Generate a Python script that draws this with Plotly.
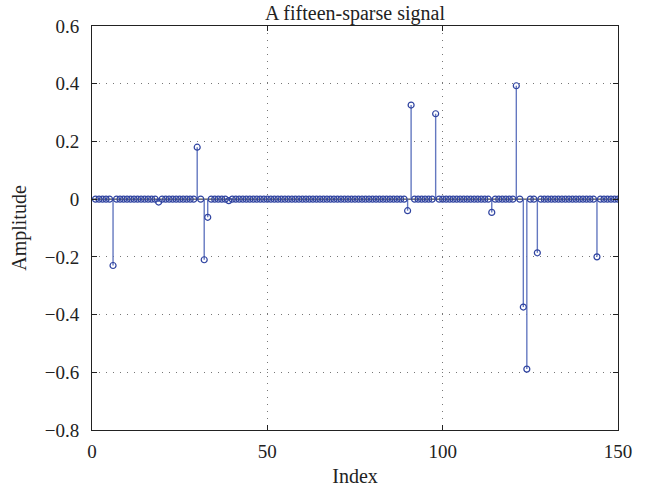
import plotly.graph_objects as go

n_points = 150
spike_index = [6, 19, 30, 32, 33, 39, 90, 91, 98, 114, 121, 123, 124, 127, 144]
spike_value = [-0.23, -0.01, 0.18, -0.21, -0.063, -0.005, -0.04, 0.326, 0.296,
               -0.046, 0.393, -0.374, -0.589, -0.186, -0.20]

x_vals = list(range(1, n_points + 1))
y_vals = [0.0] * n_points
for i, v in zip(spike_index, spike_value):
    y_vals[i - 1] = v

x_ticks = [0, 50, 100, 150]
y_ticks = [0.6, 0.4, 0.2, 0, -0.2, -0.4, -0.6, -0.8]
y_tick_text = ["0.6", "0.4", "0.2", "0", "\u22120.2", "\u22120.4", "\u22120.6", "\u22120.8"]

stem_x, stem_y = [], []
for xv, yv in zip(x_vals, y_vals):
    stem_x += [xv, xv, None]
    stem_y += [0, yv, None]

stem_color = "#6478c0"
marker_color = "#2f43a0"
font_family = "Liberation Serif"
text_color = "#222"

fig = go.Figure()
fig.add_trace(go.Scatter(x=stem_x, y=stem_y, mode="lines",
                         line=dict(color=stem_color, width=1.4),
                         hoverinfo="skip", showlegend=False))
fig.add_trace(go.Scatter(x=x_vals, y=y_vals, mode="markers",
                         marker=dict(symbol="circle-open", size=6,
                                     color=marker_color,
                                     line=dict(color=marker_color, width=1.2)),
                         showlegend=False))

axis_common = dict(showline=True, linecolor="#222", linewidth=1, mirror="ticks",
                   ticks="inside", ticklen=5, tickcolor="#222",
                   showgrid=True, gridcolor="#777", griddash="1px,6px", gridwidth=1,
                   zeroline=False,
                   tickfont=dict(family=font_family, size=19, color=text_color))

fig.update_layout(
    width=656, height=496,
    margin=dict(l=92, r=38, t=26, b=64),
    paper_bgcolor="white", plot_bgcolor="white",
    title=dict(text="A fifteen-sparse signal", x=0.5, xanchor="center",
               xref="paper", y=1, yref="paper", yanchor="bottom", pad=dict(b=6),
               font=dict(family=font_family, size=20, color=text_color)),
    xaxis=dict(range=[0, 150], tickvals=x_ticks, ticklabelstandoff=4,
               title=dict(text="Index", standoff=8,
                          font=dict(family=font_family, size=20, color=text_color)),
               **axis_common),
    yaxis=dict(range=[-0.8, 0.6], tickvals=y_ticks, ticktext=y_tick_text,
               ticklabelstandoff=8,
               title=dict(text="Amplitude", standoff=12,
                          font=dict(family=font_family, size=20, color=text_color)),
               **axis_common),
    shapes=[dict(type="line", xref="x", yref="y", x0=0, x1=150, y0=0, y1=0,
                 line=dict(color="#222", width=1), layer="below")],
)

fig.write_html("out.html")
